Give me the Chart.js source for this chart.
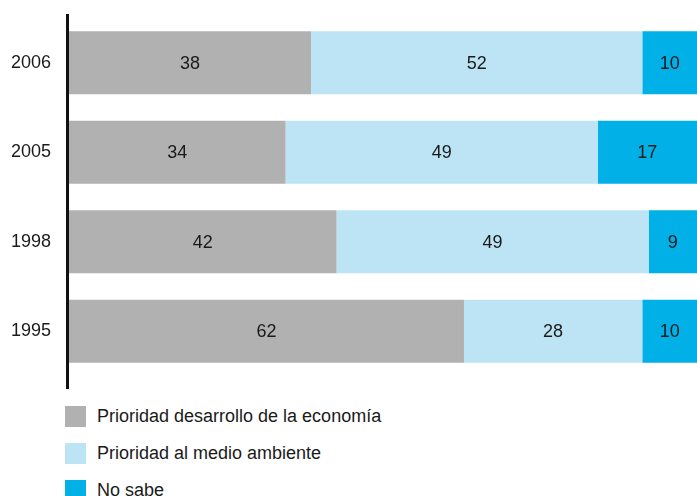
<!DOCTYPE html>
<html>
<head>
<meta charset="utf-8">
<script src="https://cdn.jsdelivr.net/npm/chart.js@4/dist/chart.umd.min.js"></script>
<style>
  html, body { margin: 0; padding: 0; background: #fff; overflow: hidden; width: 697px; height: 496px; }
  #wrap { position: absolute; left: 0; top: 0; width: 720px; height: 400px; }
  #legend { position: absolute; left: 65px; top: 406px; font-family: "Liberation Sans", Arial, sans-serif; font-size: 18px; color: #1a1a1a; }
  #legend div { height: 21px; line-height: 21px; margin-bottom: 16px; white-space: nowrap; }
  #legend span { display: inline-block; width: 21px; height: 21px; vertical-align: top; margin-right: 11px; }
</style>
</head>
<body>
<div id="wrap"><canvas id="c" width="720" height="400"></canvas></div>
<div id="legend"></div>
<script>
// Survey: economy vs environment priority, % by year
const years = ['2006', '2005', '1998', '1995'];
const economia = [38, 34, 42, 62];
const medioAmbiente = [52, 49, 49, 28];
const noSabe = [10, 17, 9, 10];
const seriesLabels = ['Prioridad desarrollo de la economía', 'Prioridad al medio ambiente', 'No sabe'];
const seriesColors = ['#b1b1b1', '#bde4f5', '#00b0e6'];

const VIEW_W = 697;

// numbers centred in the visible part of each segment
const segLabels = {
  id: 'segLabels',
  afterDatasetsDraw(chart) {
    const ctx = chart.ctx;
    ctx.save();
    ctx.font = '18px "Liberation Sans", Arial, sans-serif';
    ctx.fillStyle = '#1a1a1a';
    ctx.textAlign = 'center';
    ctx.textBaseline = 'middle';
    chart.data.datasets.forEach((ds, i) => {
      chart.getDatasetMeta(i).data.forEach((bar, j) => {
        const x0 = bar.base, x1 = Math.min(bar.x, VIEW_W);
        ctx.fillText(String(ds.data[j]), (x0 + x1) / 2, bar.y + 1);
      });
    });
    ctx.restore();
  }
};

// the thick vertical axis line, a bit longer than the bars
const axisLine = {
  id: 'axisLine',
  afterDraw(chart) {
    const ctx = chart.ctx;
    ctx.save();
    ctx.fillStyle = '#111';
    ctx.fillRect(chart.chartArea.left - 3, 14, 3, 375);
    ctx.restore();
  }
};

const chart = new Chart(document.getElementById('c'), {
  type: 'bar',
  data: {
    labels: years,
    datasets: [
      { label: seriesLabels[0], data: economia, backgroundColor: seriesColors[0] },
      { label: seriesLabels[1], data: medioAmbiente, backgroundColor: seriesColors[1] },
      { label: seriesLabels[2], data: noSabe, backgroundColor: seriesColors[2] },
    ],
  },
  options: {
    indexAxis: 'y',
    responsive: false,
    animation: false,
    events: [],
    barPercentage: 0.704,
    categoryPercentage: 1,
    layout: { padding: { top: 18, bottom: 24, right: 14, left: 0 } },
    plugins: { legend: { display: false }, tooltip: { enabled: false } },
    scales: {
      x: { stacked: true, min: 0, max: 100, display: false },
      y: {
        stacked: true,
        border: { display: false },
        grid: { display: false, drawTicks: false },
        ticks: { color: '#1a1a1a', padding: 18, font: { family: '"Liberation Sans", Arial, sans-serif', size: 18 } },
        afterFit: (s) => { s.width = 69; s.paddingTop = 0; s.paddingBottom = 0; },
      },
    },
  },
  plugins: [segLabels, axisLine],
});

document.getElementById('legend').innerHTML = chart.data.datasets
  .map((d) => `<div><span style="background:${d.backgroundColor}"></span>${d.label}</div>`)
  .join('');
</script>
</body>
</html>
